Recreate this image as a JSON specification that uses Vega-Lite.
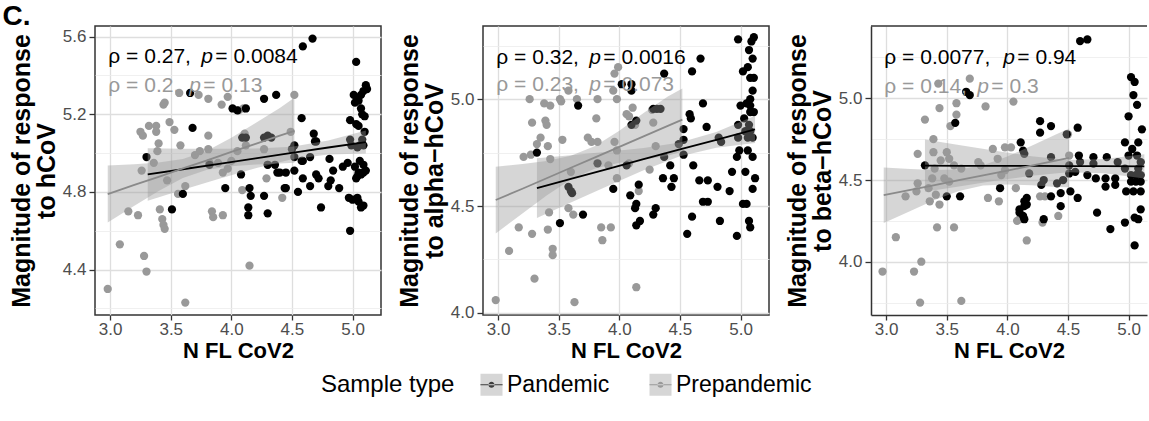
{
"$schema": "https://vega.github.io/schema/vega-lite/v6.json",
"background": "white",
"padding": {"left": 2, "right": 0, "top": 3, "bottom": 0},
"title": {"text": "C.", "anchor": "start", "frame": "bounds", "fontSize": 28, "fontWeight": "bold", "color": "#000000", "dx": -6, "offset": -6},
"datasets": {
"p1": [
{"type":"Prepandemic","nfl":2.98,"resp":4.30},{"type":"Prepandemic","nfl":3.08,"resp":4.53},{"type":"Prepandemic","nfl":3.15,"resp":4.70},{"type":"Prepandemic","nfl":3.23,"resp":4.68},{"type":"Prepandemic","nfl":3.28,"resp":4.47},{"type":"Prepandemic","nfl":3.30,"resp":4.39},{"type":"Prepandemic","nfl":3.26,"resp":4.91},{"type":"Prepandemic","nfl":3.25,"resp":5.11},{"type":"Prepandemic","nfl":3.27,"resp":5.09},{"type":"Prepandemic","nfl":3.32,"resp":5.14},{"type":"Prepandemic","nfl":3.38,"resp":5.14},{"type":"Prepandemic","nfl":3.38,"resp":5.11},{"type":"Prepandemic","nfl":3.36,"resp":4.95},{"type":"Prepandemic","nfl":3.40,"resp":5.05},{"type":"Prepandemic","nfl":3.39,"resp":5.01},{"type":"Prepandemic","nfl":3.44,"resp":5.25},{"type":"Prepandemic","nfl":3.45,"resp":5.26},{"type":"Prepandemic","nfl":3.41,"resp":4.71},{"type":"Prepandemic","nfl":3.43,"resp":4.66},{"type":"Prepandemic","nfl":3.44,"resp":4.63},{"type":"Prepandemic","nfl":3.45,"resp":4.61},{"type":"Prepandemic","nfl":3.47,"resp":4.86},{"type":"Prepandemic","nfl":3.49,"resp":5.16},{"type":"Prepandemic","nfl":3.53,"resp":5.12},{"type":"Prepandemic","nfl":3.58,"resp":5.04},{"type":"Prepandemic","nfl":3.57,"resp":5.31},{"type":"Prepandemic","nfl":3.73,"resp":5.30},{"type":"Prepandemic","nfl":3.56,"resp":4.79},{"type":"Prepandemic","nfl":3.62,"resp":4.83},{"type":"Prepandemic","nfl":3.62,"resp":4.23},{"type":"Prepandemic","nfl":3.74,"resp":5.01},{"type":"Prepandemic","nfl":3.81,"resp":5.02},{"type":"Prepandemic","nfl":3.81,"resp":5.09},{"type":"Prepandemic","nfl":3.81,"resp":5.28},{"type":"Prepandemic","nfl":3.92,"resp":5.25},{"type":"Prepandemic","nfl":3.97,"resp":5.29},{"type":"Prepandemic","nfl":3.84,"resp":4.70},{"type":"Prepandemic","nfl":3.85,"resp":4.67},{"type":"Prepandemic","nfl":3.93,"resp":4.68},{"type":"Prepandemic","nfl":3.82,"resp":4.95},{"type":"Prepandemic","nfl":3.93,"resp":4.90},{"type":"Prepandemic","nfl":3.97,"resp":4.92},{"type":"Prepandemic","nfl":4.00,"resp":4.96},{"type":"Prepandemic","nfl":4.05,"resp":5.01},{"type":"Prepandemic","nfl":4.06,"resp":5.22},{"type":"Prepandemic","nfl":4.10,"resp":5.23},{"type":"Prepandemic","nfl":4.11,"resp":5.10},{"type":"Prepandemic","nfl":4.12,"resp":5.04},{"type":"Prepandemic","nfl":4.09,"resp":4.81},{"type":"Prepandemic","nfl":4.15,"resp":4.42},{"type":"Prepandemic","nfl":4.27,"resp":5.02},{"type":"Prepandemic","nfl":4.29,"resp":4.87},{"type":"Prepandemic","nfl":4.30,"resp":4.94},{"type":"Prepandemic","nfl":4.42,"resp":4.77},{"type":"Prepandemic","nfl":4.49,"resp":5.11},{"type":"Prepandemic","nfl":4.52,"resp":5.30},{"type":"Prepandemic","nfl":3.70,"resp":4.99},{"type":"Prepandemic","nfl":3.89,"resp":4.95},
{"type":"Pandemic","nfl":3.30,"resp":4.98},{"type":"Pandemic","nfl":3.51,"resp":4.71},{"type":"Pandemic","nfl":3.66,"resp":5.31},{"type":"Pandemic","nfl":3.68,"resp":5.13},{"type":"Pandemic","nfl":3.60,"resp":4.79},{"type":"Pandemic","nfl":3.82,"resp":4.94},{"type":"Pandemic","nfl":3.95,"resp":4.82},{"type":"Pandemic","nfl":4.01,"resp":5.23},{"type":"Pandemic","nfl":4.05,"resp":5.22},{"type":"Pandemic","nfl":4.12,"resp":5.23},{"type":"Pandemic","nfl":4.09,"resp":5.08},{"type":"Pandemic","nfl":4.12,"resp":5.08},{"type":"Pandemic","nfl":4.08,"resp":4.89},{"type":"Pandemic","nfl":4.15,"resp":4.82},{"type":"Pandemic","nfl":4.16,"resp":4.78},{"type":"Pandemic","nfl":4.14,"resp":4.72},{"type":"Pandemic","nfl":4.14,"resp":4.68},{"type":"Pandemic","nfl":4.27,"resp":5.28},{"type":"Pandemic","nfl":4.27,"resp":5.08},{"type":"Pandemic","nfl":4.30,"resp":5.09},{"type":"Pandemic","nfl":4.33,"resp":5.08},{"type":"Pandemic","nfl":4.27,"resp":4.78},{"type":"Pandemic","nfl":4.30,"resp":4.69},{"type":"Pandemic","nfl":4.37,"resp":5.30},{"type":"Pandemic","nfl":4.30,"resp":4.94},{"type":"Pandemic","nfl":4.36,"resp":4.94},{"type":"Pandemic","nfl":4.40,"resp":4.90},{"type":"Pandemic","nfl":4.45,"resp":4.90},{"type":"Pandemic","nfl":4.45,"resp":4.82},{"type":"Pandemic","nfl":4.52,"resp":5.04},{"type":"Pandemic","nfl":4.50,"resp":5.02},{"type":"Pandemic","nfl":4.52,"resp":4.98},{"type":"Pandemic","nfl":4.52,"resp":4.91},{"type":"Pandemic","nfl":4.55,"resp":4.80},{"type":"Pandemic","nfl":4.58,"resp":5.18},{"type":"Pandemic","nfl":4.59,"resp":4.96},{"type":"Pandemic","nfl":4.59,"resp":4.87},{"type":"Pandemic","nfl":4.59,"resp":5.55},{"type":"Pandemic","nfl":4.67,"resp":5.59},{"type":"Pandemic","nfl":4.65,"resp":4.98},{"type":"Pandemic","nfl":4.68,"resp":5.10},{"type":"Pandemic","nfl":4.70,"resp":5.06},{"type":"Pandemic","nfl":4.70,"resp":4.89},{"type":"Pandemic","nfl":4.72,"resp":4.87},{"type":"Pandemic","nfl":4.74,"resp":4.72},{"type":"Pandemic","nfl":4.81,"resp":4.97},{"type":"Pandemic","nfl":4.82,"resp":4.86},{"type":"Pandemic","nfl":4.80,"resp":4.83},{"type":"Pandemic","nfl":4.84,"resp":4.91},{"type":"Pandemic","nfl":4.89,"resp":4.82},{"type":"Pandemic","nfl":4.92,"resp":4.93},{"type":"Pandemic","nfl":4.96,"resp":4.95},{"type":"Pandemic","nfl":4.98,"resp":4.60},{"type":"Pandemic","nfl":4.97,"resp":4.77},{"type":"Pandemic","nfl":4.98,"resp":5.07},{"type":"Pandemic","nfl":4.99,"resp":5.04},{"type":"Pandemic","nfl":4.98,"resp":5.17},{"type":"Pandemic","nfl":5.03,"resp":5.47},{"type":"Pandemic","nfl":5.01,"resp":5.30},{"type":"Pandemic","nfl":5.04,"resp":5.28},{"type":"Pandemic","nfl":5.07,"resp":5.30},{"type":"Pandemic","nfl":5.09,"resp":5.32},{"type":"Pandemic","nfl":5.11,"resp":5.35},{"type":"Pandemic","nfl":5.12,"resp":5.33},{"type":"Pandemic","nfl":5.02,"resp":5.26},{"type":"Pandemic","nfl":5.05,"resp":5.27},{"type":"Pandemic","nfl":5.07,"resp":5.23},{"type":"Pandemic","nfl":5.08,"resp":5.20},{"type":"Pandemic","nfl":5.10,"resp":5.19},{"type":"Pandemic","nfl":5.03,"resp":5.15},{"type":"Pandemic","nfl":5.05,"resp":5.14},{"type":"Pandemic","nfl":5.10,"resp":5.11},{"type":"Pandemic","nfl":5.08,"resp":5.07},{"type":"Pandemic","nfl":5.06,"resp":5.04},{"type":"Pandemic","nfl":5.09,"resp":5.04},{"type":"Pandemic","nfl":5.04,"resp":5.03},{"type":"Pandemic","nfl":5.06,"resp":4.96},{"type":"Pandemic","nfl":5.09,"resp":4.94},{"type":"Pandemic","nfl":5.02,"resp":4.93},{"type":"Pandemic","nfl":5.05,"resp":4.90},{"type":"Pandemic","nfl":5.04,"resp":4.88},{"type":"Pandemic","nfl":5.07,"resp":4.89},{"type":"Pandemic","nfl":5.09,"resp":4.90},{"type":"Pandemic","nfl":5.11,"resp":4.91},{"type":"Pandemic","nfl":5.03,"resp":4.87},{"type":"Pandemic","nfl":5.05,"resp":4.75},{"type":"Pandemic","nfl":5.07,"resp":4.72},{"type":"Pandemic","nfl":5.09,"resp":4.73},{"type":"Pandemic","nfl":5.00,"resp":4.76},{"type":"Pandemic","nfl":5.04,"resp":4.77},{"type":"Pandemic","nfl":4.38,"resp":4.90},{"type":"Pandemic","nfl":4.44,"resp":4.82},{"type":"Pandemic","nfl":4.69,"resp":5.06},{"type":"Pandemic","nfl":4.65,"resp":4.83},{"type":"Pandemic","nfl":4.58,"resp":4.96}
],
"p1fit": [
{"type":"Pandemic","nfl":3.31,"fit":4.890,"lo":4.755,"hi":5.025},{"type":"Pandemic","nfl":3.6,"fit":4.917,"lo":4.811,"hi":5.023},{"type":"Pandemic","nfl":3.9,"fit":4.945,"lo":4.868,"hi":5.023},{"type":"Pandemic","nfl":4.2,"fit":4.973,"lo":4.922,"hi":5.024},{"type":"Pandemic","nfl":4.5,"fit":5.001,"lo":4.969,"hi":5.033},{"type":"Pandemic","nfl":4.8,"fit":5.029,"lo":4.993,"hi":5.065},{"type":"Pandemic","nfl":5.11,"fit":5.057,"lo":4.998,"hi":5.116},
{"type":"Prepandemic","nfl":2.98,"fit":4.789,"lo":4.642,"hi":4.936},{"type":"Prepandemic","nfl":3.2,"fit":4.836,"lo":4.729,"hi":4.943},{"type":"Prepandemic","nfl":3.4,"fit":4.878,"lo":4.805,"hi":4.952},{"type":"Prepandemic","nfl":3.6,"fit":4.921,"lo":4.872,"hi":4.970},{"type":"Prepandemic","nfl":3.8,"fit":4.963,"lo":4.914,"hi":5.012},{"type":"Prepandemic","nfl":4.0,"fit":5.006,"lo":4.932,"hi":5.079},{"type":"Prepandemic","nfl":4.2,"fit":5.048,"lo":4.941,"hi":5.155},{"type":"Prepandemic","nfl":4.4,"fit":5.090,"lo":4.947,"hi":5.233},{"type":"Prepandemic","nfl":4.52,"fit":5.115,"lo":4.950,"hi":5.285}
],
"p2": [
{"type":"Prepandemic","nfl":2.98,"resp":4.06},{"type":"Prepandemic","nfl":3.09,"resp":4.29},{"type":"Prepandemic","nfl":3.17,"resp":4.40},{"type":"Prepandemic","nfl":3.28,"resp":4.37},{"type":"Prepandemic","nfl":3.30,"resp":4.16},{"type":"Prepandemic","nfl":3.26,"resp":5.00},{"type":"Prepandemic","nfl":3.38,"resp":4.98},{"type":"Prepandemic","nfl":3.43,"resp":4.97},{"type":"Prepandemic","nfl":3.28,"resp":4.89},{"type":"Prepandemic","nfl":3.39,"resp":4.90},{"type":"Prepandemic","nfl":3.40,"resp":4.88},{"type":"Prepandemic","nfl":3.32,"resp":4.79},{"type":"Prepandemic","nfl":3.35,"resp":4.82},{"type":"Prepandemic","nfl":3.27,"resp":4.74},{"type":"Prepandemic","nfl":3.41,"resp":4.78},{"type":"Prepandemic","nfl":3.43,"resp":4.72},{"type":"Prepandemic","nfl":3.51,"resp":5.00},{"type":"Prepandemic","nfl":3.52,"resp":4.99},{"type":"Prepandemic","nfl":3.58,"resp":5.04},{"type":"Prepandemic","nfl":3.53,"resp":4.81},{"type":"Prepandemic","nfl":3.82,"resp":5.00},{"type":"Prepandemic","nfl":3.81,"resp":4.91},{"type":"Prepandemic","nfl":3.74,"resp":4.82},{"type":"Prepandemic","nfl":3.77,"resp":4.80},{"type":"Prepandemic","nfl":3.82,"resp":4.80},{"type":"Prepandemic","nfl":3.95,"resp":5.04},{"type":"Prepandemic","nfl":3.96,"resp":5.12},{"type":"Prepandemic","nfl":3.99,"resp":5.15},{"type":"Prepandemic","nfl":3.96,"resp":4.80},{"type":"Prepandemic","nfl":3.98,"resp":4.76},{"type":"Prepandemic","nfl":3.60,"resp":4.66},{"type":"Prepandemic","nfl":3.58,"resp":4.49},{"type":"Prepandemic","nfl":3.62,"resp":4.46},{"type":"Prepandemic","nfl":3.42,"resp":4.47},{"type":"Prepandemic","nfl":3.41,"resp":4.39},{"type":"Prepandemic","nfl":3.45,"resp":4.30},{"type":"Prepandemic","nfl":3.45,"resp":4.27},{"type":"Prepandemic","nfl":3.85,"resp":4.40},{"type":"Prepandemic","nfl":3.93,"resp":4.40},{"type":"Prepandemic","nfl":3.86,"resp":4.34},{"type":"Prepandemic","nfl":3.63,"resp":4.05},{"type":"Prepandemic","nfl":3.91,"resp":4.69},{"type":"Prepandemic","nfl":3.98,"resp":4.63},{"type":"Prepandemic","nfl":3.21,"resp":4.73},{"type":"Prepandemic","nfl":3.65,"resp":5.00},{"type":"Prepandemic","nfl":3.98,"resp":5.00},{"type":"Prepandemic","nfl":4.06,"resp":4.93},{"type":"Prepandemic","nfl":4.11,"resp":4.96},{"type":"Prepandemic","nfl":4.13,"resp":4.88},{"type":"Prepandemic","nfl":4.27,"resp":4.95},{"type":"Prepandemic","nfl":4.28,"resp":4.89},{"type":"Prepandemic","nfl":4.08,"resp":4.92},{"type":"Prepandemic","nfl":4.30,"resp":4.78},{"type":"Prepandemic","nfl":4.25,"resp":4.67},{"type":"Prepandemic","nfl":4.08,"resp":4.70},{"type":"Prepandemic","nfl":4.43,"resp":4.59},{"type":"Prepandemic","nfl":4.16,"resp":4.57},{"type":"Prepandemic","nfl":4.14,"resp":4.12},
{"type":"Pandemic","nfl":3.32,"resp":4.75},{"type":"Pandemic","nfl":3.66,"resp":4.97},{"type":"Pandemic","nfl":4.02,"resp":5.07},{"type":"Pandemic","nfl":4.10,"resp":5.07},{"type":"Pandemic","nfl":4.10,"resp":5.04},{"type":"Pandemic","nfl":3.58,"resp":4.59},{"type":"Pandemic","nfl":3.60,"resp":4.57},{"type":"Pandemic","nfl":3.61,"resp":4.56},{"type":"Pandemic","nfl":3.70,"resp":4.46},{"type":"Pandemic","nfl":3.51,"resp":4.42},{"type":"Pandemic","nfl":3.95,"resp":4.58},{"type":"Pandemic","nfl":3.82,"resp":4.70},{"type":"Pandemic","nfl":4.98,"resp":5.28},{"type":"Pandemic","nfl":5.09,"resp":5.27},{"type":"Pandemic","nfl":5.11,"resp":5.29},{"type":"Pandemic","nfl":5.07,"resp":5.23},{"type":"Pandemic","nfl":5.10,"resp":5.19},{"type":"Pandemic","nfl":5.06,"resp":5.15},{"type":"Pandemic","nfl":5.02,"resp":5.13},{"type":"Pandemic","nfl":5.08,"resp":5.10},{"type":"Pandemic","nfl":5.11,"resp":5.10},{"type":"Pandemic","nfl":5.10,"resp":5.04},{"type":"Pandemic","nfl":5.08,"resp":5.00},{"type":"Pandemic","nfl":5.05,"resp":4.98},{"type":"Pandemic","nfl":5.00,"resp":4.97},{"type":"Pandemic","nfl":5.08,"resp":4.97},{"type":"Pandemic","nfl":5.11,"resp":4.94},{"type":"Pandemic","nfl":5.08,"resp":4.94},{"type":"Pandemic","nfl":5.03,"resp":4.91},{"type":"Pandemic","nfl":5.07,"resp":4.88},{"type":"Pandemic","nfl":4.98,"resp":4.88},{"type":"Pandemic","nfl":5.04,"resp":4.85},{"type":"Pandemic","nfl":5.08,"resp":4.85},{"type":"Pandemic","nfl":5.10,"resp":4.82},{"type":"Pandemic","nfl":4.98,"resp":4.82},{"type":"Pandemic","nfl":5.06,"resp":4.82},{"type":"Pandemic","nfl":4.99,"resp":4.76},{"type":"Pandemic","nfl":4.97,"resp":4.73},{"type":"Pandemic","nfl":5.06,"resp":4.76},{"type":"Pandemic","nfl":5.10,"resp":4.73},{"type":"Pandemic","nfl":5.04,"resp":4.66},{"type":"Pandemic","nfl":4.93,"resp":4.66},{"type":"Pandemic","nfl":5.12,"resp":4.63},{"type":"Pandemic","nfl":5.10,"resp":4.58},{"type":"Pandemic","nfl":5.02,"resp":4.51},{"type":"Pandemic","nfl":5.05,"resp":4.51},{"type":"Pandemic","nfl":5.07,"resp":4.43},{"type":"Pandemic","nfl":5.08,"resp":4.40},{"type":"Pandemic","nfl":4.97,"resp":4.36},{"type":"Pandemic","nfl":4.91,"resp":4.57},{"type":"Pandemic","nfl":4.82,"resp":4.82},{"type":"Pandemic","nfl":4.84,"resp":4.80},{"type":"Pandemic","nfl":4.83,"resp":4.43},{"type":"Pandemic","nfl":4.81,"resp":4.59},{"type":"Pandemic","nfl":4.73,"resp":4.62},{"type":"Pandemic","nfl":4.69,"resp":4.52},{"type":"Pandemic","nfl":4.73,"resp":4.52},{"type":"Pandemic","nfl":4.60,"resp":4.45},{"type":"Pandemic","nfl":4.56,"resp":4.37},{"type":"Pandemic","nfl":4.61,"resp":4.69},{"type":"Pandemic","nfl":4.72,"resp":4.87},{"type":"Pandemic","nfl":4.69,"resp":4.98},{"type":"Pandemic","nfl":4.67,"resp":5.19},{"type":"Pandemic","nfl":4.60,"resp":5.13},{"type":"Pandemic","nfl":4.58,"resp":4.93},{"type":"Pandemic","nfl":4.59,"resp":4.91},{"type":"Pandemic","nfl":4.53,"resp":4.86},{"type":"Pandemic","nfl":4.53,"resp":4.81},{"type":"Pandemic","nfl":4.49,"resp":4.79},{"type":"Pandemic","nfl":4.53,"resp":4.74},{"type":"Pandemic","nfl":4.43,"resp":4.59},{"type":"Pandemic","nfl":4.45,"resp":4.63},{"type":"Pandemic","nfl":4.36,"resp":4.63},{"type":"Pandemic","nfl":4.42,"resp":4.69},{"type":"Pandemic","nfl":4.37,"resp":4.73},{"type":"Pandemic","nfl":4.31,"resp":4.955},{"type":"Pandemic","nfl":4.34,"resp":4.955},{"type":"Pandemic","nfl":4.28,"resp":4.955},{"type":"Pandemic","nfl":4.28,"resp":4.46},{"type":"Pandemic","nfl":4.30,"resp":4.49},{"type":"Pandemic","nfl":4.14,"resp":4.41},{"type":"Pandemic","nfl":4.17,"resp":4.43},{"type":"Pandemic","nfl":4.14,"resp":4.51},{"type":"Pandemic","nfl":4.13,"resp":4.49},{"type":"Pandemic","nfl":4.09,"resp":4.55},{"type":"Pandemic","nfl":4.16,"resp":4.60},{"type":"Pandemic","nfl":4.14,"resp":4.90},{"type":"Pandemic","nfl":4.10,"resp":4.88},{"type":"Pandemic","nfl":4.37,"resp":5.12},{"type":"Pandemic","nfl":4.06,"resp":4.69},{"type":"Pandemic","nfl":4.66,"resp":4.62}
],
"p2fit": [
{"type":"Pandemic","nfl":3.32,"fit":4.584,"lo":4.444,"hi":4.724},{"type":"Pandemic","nfl":3.6,"fit":4.627,"lo":4.516,"hi":4.738},{"type":"Pandemic","nfl":3.9,"fit":4.673,"lo":4.592,"hi":4.754},{"type":"Pandemic","nfl":4.2,"fit":4.719,"lo":4.667,"hi":4.771},{"type":"Pandemic","nfl":4.5,"fit":4.765,"lo":4.733,"hi":4.797},{"type":"Pandemic","nfl":4.8,"fit":4.810,"lo":4.773,"hi":4.847},{"type":"Pandemic","nfl":5.12,"fit":4.859,"lo":4.795,"hi":4.923},
{"type":"Prepandemic","nfl":2.98,"fit":4.528,"lo":4.372,"hi":4.684},{"type":"Prepandemic","nfl":3.2,"fit":4.581,"lo":4.465,"hi":4.697},{"type":"Prepandemic","nfl":3.4,"fit":4.630,"lo":4.549,"hi":4.711},{"type":"Prepandemic","nfl":3.6,"fit":4.679,"lo":4.624,"hi":4.735},{"type":"Prepandemic","nfl":3.8,"fit":4.728,"lo":4.676,"hi":4.781},{"type":"Prepandemic","nfl":4.0,"fit":4.777,"lo":4.702,"hi":4.852},{"type":"Prepandemic","nfl":4.2,"fit":4.826,"lo":4.717,"hi":4.935},{"type":"Prepandemic","nfl":4.4,"fit":4.875,"lo":4.735,"hi":5.012},{"type":"Prepandemic","nfl":4.52,"fit":4.904,"lo":4.755,"hi":5.050}
],
"p3": [
{"type":"Prepandemic","nfl":2.97,"resp":3.94},{"type":"Prepandemic","nfl":3.08,"resp":4.15},{"type":"Prepandemic","nfl":3.23,"resp":3.94},{"type":"Prepandemic","nfl":3.29,"resp":4.00},{"type":"Prepandemic","nfl":3.28,"resp":3.75},{"type":"Prepandemic","nfl":3.62,"resp":3.76},{"type":"Prepandemic","nfl":3.42,"resp":4.21},{"type":"Prepandemic","nfl":3.56,"resp":4.21},{"type":"Prepandemic","nfl":3.16,"resp":4.40},{"type":"Prepandemic","nfl":3.25,"resp":4.43},{"type":"Prepandemic","nfl":3.26,"resp":4.48},{"type":"Prepandemic","nfl":3.36,"resp":4.37},{"type":"Prepandemic","nfl":3.41,"resp":4.41},{"type":"Prepandemic","nfl":3.44,"resp":4.35},{"type":"Prepandemic","nfl":3.38,"resp":4.51},{"type":"Prepandemic","nfl":3.48,"resp":4.51},{"type":"Prepandemic","nfl":3.26,"resp":4.66},{"type":"Prepandemic","nfl":3.39,"resp":4.67},{"type":"Prepandemic","nfl":3.39,"resp":4.75},{"type":"Prepandemic","nfl":3.50,"resp":4.67},{"type":"Prepandemic","nfl":3.52,"resp":4.63},{"type":"Prepandemic","nfl":3.32,"resp":4.87},{"type":"Prepandemic","nfl":3.44,"resp":4.94},{"type":"Prepandemic","nfl":3.53,"resp":4.83},{"type":"Prepandemic","nfl":3.58,"resp":4.90},{"type":"Prepandemic","nfl":3.58,"resp":4.97},{"type":"Prepandemic","nfl":3.43,"resp":5.09},{"type":"Prepandemic","nfl":3.69,"resp":5.12},{"type":"Prepandemic","nfl":3.82,"resp":4.95},{"type":"Prepandemic","nfl":4.05,"resp":4.98},{"type":"Prepandemic","nfl":3.88,"resp":4.69},{"type":"Prepandemic","nfl":3.98,"resp":4.70},{"type":"Prepandemic","nfl":3.76,"resp":4.61},{"type":"Prepandemic","nfl":3.84,"resp":4.39},{"type":"Prepandemic","nfl":3.93,"resp":4.37},{"type":"Prepandemic","nfl":3.98,"resp":4.56},{"type":"Prepandemic","nfl":3.52,"resp":4.49},{"type":"Prepandemic","nfl":3.62,"resp":4.57},{"type":"Prepandemic","nfl":3.45,"resp":4.62},{"type":"Prepandemic","nfl":3.56,"resp":4.59},{"type":"Prepandemic","nfl":3.92,"resp":4.63},{"type":"Prepandemic","nfl":3.95,"resp":4.53},{"type":"Prepandemic","nfl":4.07,"resp":4.45},{"type":"Prepandemic","nfl":4.08,"resp":4.25},{"type":"Prepandemic","nfl":4.10,"resp":4.26},{"type":"Prepandemic","nfl":4.16,"resp":4.13},{"type":"Prepandemic","nfl":4.27,"resp":4.40},{"type":"Prepandemic","nfl":4.29,"resp":4.24},{"type":"Prepandemic","nfl":4.42,"resp":4.28},{"type":"Prepandemic","nfl":4.51,"resp":4.65},{"type":"Prepandemic","nfl":4.50,"resp":4.78},{"type":"Prepandemic","nfl":4.03,"resp":4.70},{"type":"Prepandemic","nfl":4.31,"resp":4.40},{"type":"Prepandemic","nfl":3.35,"resp":4.45},{"type":"Prepandemic","nfl":3.40,"resp":4.57},{"type":"Prepandemic","nfl":3.78,"resp":4.59},
{"type":"Pandemic","nfl":3.32,"resp":4.59},{"type":"Pandemic","nfl":3.57,"resp":4.85},{"type":"Pandemic","nfl":3.66,"resp":5.04},{"type":"Pandemic","nfl":3.69,"resp":5.02},{"type":"Pandemic","nfl":3.50,"resp":4.40},{"type":"Pandemic","nfl":3.61,"resp":4.40},{"type":"Pandemic","nfl":3.94,"resp":4.45},{"type":"Pandemic","nfl":4.11,"resp":4.73},{"type":"Pandemic","nfl":4.13,"resp":4.68},{"type":"Pandemic","nfl":4.14,"resp":4.66},{"type":"Pandemic","nfl":4.10,"resp":4.30},{"type":"Pandemic","nfl":4.13,"resp":4.28},{"type":"Pandemic","nfl":4.14,"resp":4.37},{"type":"Pandemic","nfl":4.16,"resp":4.35},{"type":"Pandemic","nfl":4.14,"resp":4.26},{"type":"Pandemic","nfl":4.18,"resp":4.54},{"type":"Pandemic","nfl":4.16,"resp":4.39},{"type":"Pandemic","nfl":4.14,"resp":4.34},{"type":"Pandemic","nfl":4.10,"resp":4.32},{"type":"Pandemic","nfl":4.27,"resp":4.86},{"type":"Pandemic","nfl":4.27,"resp":4.79},{"type":"Pandemic","nfl":4.36,"resp":4.83},{"type":"Pandemic","nfl":4.36,"resp":4.40},{"type":"Pandemic","nfl":4.36,"resp":4.64},{"type":"Pandemic","nfl":4.30,"resp":4.50},{"type":"Pandemic","nfl":4.28,"resp":4.47},{"type":"Pandemic","nfl":4.30,"resp":4.26},{"type":"Pandemic","nfl":4.41,"resp":4.48},{"type":"Pandemic","nfl":4.44,"resp":4.42},{"type":"Pandemic","nfl":4.44,"resp":4.34},{"type":"Pandemic","nfl":4.52,"resp":4.43},{"type":"Pandemic","nfl":4.51,"resp":4.54},{"type":"Pandemic","nfl":4.51,"resp":4.59},{"type":"Pandemic","nfl":4.58,"resp":4.82},{"type":"Pandemic","nfl":4.49,"resp":4.78},{"type":"Pandemic","nfl":4.58,"resp":4.39},{"type":"Pandemic","nfl":4.59,"resp":4.65},{"type":"Pandemic","nfl":4.60,"resp":4.61},{"type":"Pandemic","nfl":4.71,"resp":4.64},{"type":"Pandemic","nfl":4.66,"resp":4.53},{"type":"Pandemic","nfl":4.73,"resp":4.51},{"type":"Pandemic","nfl":4.71,"resp":4.60},{"type":"Pandemic","nfl":4.81,"resp":4.51},{"type":"Pandemic","nfl":4.82,"resp":4.64},{"type":"Pandemic","nfl":4.91,"resp":4.61},{"type":"Pandemic","nfl":4.85,"resp":4.20},{"type":"Pandemic","nfl":4.74,"resp":4.30},{"type":"Pandemic","nfl":4.60,"resp":5.35},{"type":"Pandemic","nfl":4.66,"resp":5.36},{"type":"Pandemic","nfl":5.02,"resp":5.13},{"type":"Pandemic","nfl":5.05,"resp":5.10},{"type":"Pandemic","nfl":5.04,"resp":5.02},{"type":"Pandemic","nfl":5.07,"resp":4.96},{"type":"Pandemic","nfl":5.00,"resp":4.89},{"type":"Pandemic","nfl":5.11,"resp":4.81},{"type":"Pandemic","nfl":4.97,"resp":4.73},{"type":"Pandemic","nfl":5.08,"resp":4.73},{"type":"Pandemic","nfl":5.03,"resp":4.69},{"type":"Pandemic","nfl":5.07,"resp":4.65},{"type":"Pandemic","nfl":5.10,"resp":4.61},{"type":"Pandemic","nfl":5.00,"resp":4.65},{"type":"Pandemic","nfl":5.08,"resp":4.57},{"type":"Pandemic","nfl":4.97,"resp":4.57},{"type":"Pandemic","nfl":5.02,"resp":4.53},{"type":"Pandemic","nfl":5.06,"resp":4.53},{"type":"Pandemic","nfl":5.10,"resp":4.53},{"type":"Pandemic","nfl":5.02,"resp":4.49},{"type":"Pandemic","nfl":5.06,"resp":4.49},{"type":"Pandemic","nfl":5.10,"resp":4.49},{"type":"Pandemic","nfl":4.98,"resp":4.43},{"type":"Pandemic","nfl":5.04,"resp":4.43},{"type":"Pandemic","nfl":5.10,"resp":4.43},{"type":"Pandemic","nfl":5.05,"resp":4.27},{"type":"Pandemic","nfl":5.08,"resp":4.26},{"type":"Pandemic","nfl":4.97,"resp":4.24},{"type":"Pandemic","nfl":5.10,"resp":4.32},{"type":"Pandemic","nfl":5.05,"resp":4.10},{"type":"Pandemic","nfl":4.89,"resp":4.51},{"type":"Pandemic","nfl":4.81,"resp":4.46},{"type":"Pandemic","nfl":4.89,"resp":4.47},{"type":"Pandemic","nfl":4.46,"resp":4.50},{"type":"Pandemic","nfl":4.56,"resp":4.55}
],
"p3fit": [
{"type":"Pandemic","nfl":3.32,"fit":4.588,"lo":4.428,"hi":4.748},{"type":"Pandemic","nfl":3.6,"fit":4.587,"lo":4.460,"hi":4.714},{"type":"Pandemic","nfl":3.9,"fit":4.587,"lo":4.495,"hi":4.679},{"type":"Pandemic","nfl":4.2,"fit":4.586,"lo":4.526,"hi":4.646},{"type":"Pandemic","nfl":4.5,"fit":4.585,"lo":4.548,"hi":4.622},{"type":"Pandemic","nfl":4.8,"fit":4.585,"lo":4.542,"hi":4.628},{"type":"Pandemic","nfl":5.13,"fit":4.584,"lo":4.510,"hi":4.657},
{"type":"Prepandemic","nfl":2.98,"fit":4.407,"lo":4.237,"hi":4.577},{"type":"Prepandemic","nfl":3.2,"fit":4.439,"lo":4.311,"hi":4.567},{"type":"Prepandemic","nfl":3.4,"fit":4.469,"lo":4.377,"hi":4.561},{"type":"Prepandemic","nfl":3.6,"fit":4.499,"lo":4.433,"hi":4.564},{"type":"Prepandemic","nfl":3.8,"fit":4.529,"lo":4.466,"hi":4.591},{"type":"Prepandemic","nfl":4.0,"fit":4.558,"lo":4.473,"hi":4.644},{"type":"Prepandemic","nfl":4.2,"fit":4.588,"lo":4.468,"hi":4.709},{"type":"Prepandemic","nfl":4.4,"fit":4.618,"lo":4.458,"hi":4.778},{"type":"Prepandemic","nfl":4.51,"fit":4.636,"lo":4.455,"hi":4.815}
]
},
"spacing": 102,
"bounds": "flush",
"hconcat": [
{
"width": 286, "height": 289,
"layer": [
{"data": {"name": "p1"}, "mark": {"type": "circle", "size": 68, "opacity": 1},
 "encoding": {
  "x": {"field": "nfl", "type": "quantitative", "scale": {"domain": [2.875, 5.235], "nice": false, "zero": false},
   "axis": {"title": "N FL CoV2", "values": [3, 3.25, 3.5, 3.75, 4, 4.25, 4.5, 4.75, 5], "labelFlush": false,
    "labelExpr": "round(datum.value*100) % 50 == 0 ? format(datum.value, '.1f') : ''",
    "tickOpacity": {"condition": {"test": "round(datum.value*100) % 50 != 0", "value": 0}, "value": 1},
    "gridWidth": {"condition": {"test": "round(datum.value*100) % 50 != 0", "value": 0.8}, "value": 1.3},
    "gridColor": {"condition": {"test": "round(datum.value*100) % 50 != 0", "value": "#ececec"}, "value": "#dedede"}}},
  "y": {"field": "resp", "type": "quantitative", "scale": {"domain": [4.166, 5.655], "nice": false, "zero": false},
   "axis": {"title": ["Magnitude of response", "to hCoV"], "values": [4.2, 4.4, 4.6, 4.8, 5.0, 5.2, 5.4, 5.6],
    "labelExpr": "round(datum.value*10) % 4 == 0 ? format(datum.value, '.1f') : ''",
    "tickOpacity": {"condition": {"test": "round(datum.value*10) % 4 != 0", "value": 0}, "value": 1},
    "gridWidth": {"condition": {"test": "round(datum.value*10) % 4 != 0", "value": 0.8}, "value": 1.3},
    "gridColor": {"condition": {"test": "round(datum.value*10) % 4 != 0", "value": "#ececec"}, "value": "#dedede"}}},
  "fill": {"field": "type", "type": "nominal", "scale": {"range": ["#000000", "#999999"]},
   "legend": {"title": "Sample type", "orient": "none", "legendX": 226, "legendY": 347, "direction": "horizontal", "titleOrient": "left", "titleFontSize": 24, "titleFontWeight": "normal", "titleColor": "#000000", "titlePadding": 25, "labelFontSize": 23, "labelColor": "#000000", "labelOffset": 4, "columnPadding": 39, "symbolType": "M-1,-0.05L1,-0.05L1,0.05L-1,0.05Z M-0.28,0A0.28,0.28 0 1,0 0.28,0A0.28,0.28 0 1,0 -0.28,0Z", "symbolSize": 484, "symbolStrokeWidth": 0, "symbolOpacity": 1}}
 }},
{"data": {"name": "p1fit"}, "mark": {"type": "area", "opacity": 0.4},
 "encoding": {
  "x": {"field": "nfl", "type": "quantitative"},
  "y": {"field": "lo", "type": "quantitative"},
  "y2": {"field": "hi"},
  "color": {"field": "type", "type": "nominal", "scale": {"domain": ["Pandemic", "Prepandemic"], "range": ["#999999", "#999999"]},
   "legend": {"title": "Sample type", "orient": "none", "legendX": 226, "legendY": 347, "direction": "horizontal", "titleOrient": "left", "titleFontSize": 24, "titleFontWeight": "normal", "titlePadding": 25, "titleOpacity": 0, "labelFontSize": 23, "labelOpacity": 0, "labelOffset": 4, "columnPadding": 39, "symbolType": "square", "symbolSize": 484, "symbolStrokeWidth": 0, "symbolOpacity": 0.4}}
 }},
{"data": {"name": "p1fit"}, "mark": {"type": "line", "strokeWidth": 1.8},
 "encoding": {
  "x": {"field": "nfl", "type": "quantitative"},
  "y": {"field": "fit", "type": "quantitative"},
  "stroke": {"field": "type", "type": "nominal", "scale": {"range": ["#000000", "#8a8a8a"]}, "legend": null}
 }},
{"data": {"values": [{}]}, "mark": {"type": "text", "text": "ρ = 0.27,", "align": "left", "baseline": "middle", "fontSize": 21, "color": "#000000"}, "encoding": {"x": {"datum": 2.985}, "y": {"datum": 5.495}}},
{"data": {"values": [{}]}, "mark": {"type": "text", "text": "p", "fontStyle": "italic", "align": "left", "baseline": "middle", "fontSize": 21, "color": "#000000"}, "encoding": {"x": {"datum": 3.752}, "y": {"datum": 5.495}}},
{"data": {"values": [{}]}, "mark": {"type": "text", "text": "= 0.0084", "align": "left", "baseline": "middle", "fontSize": 21, "color": "#000000"}, "encoding": {"x": {"datum": 3.868}, "y": {"datum": 5.495}}},
{"data": {"values": [{}]}, "mark": {"type": "text", "text": "ρ = 0.2,", "align": "left", "baseline": "middle", "fontSize": 21, "color": "#999999"}, "encoding": {"x": {"datum": 2.985}, "y": {"datum": 5.346}}},
{"data": {"values": [{}]}, "mark": {"type": "text", "text": "p", "fontStyle": "italic", "align": "left", "baseline": "middle", "fontSize": 21, "color": "#999999"}, "encoding": {"x": {"datum": 3.653}, "y": {"datum": 5.346}}},
{"data": {"values": [{}]}, "mark": {"type": "text", "text": "= 0.13", "align": "left", "baseline": "middle", "fontSize": 21, "color": "#999999"}, "encoding": {"x": {"datum": 3.769}, "y": {"datum": 5.346}}}
]
},
{
"width": 286, "height": 289,
"layer": [
{"data": {"name": "p2"}, "mark": {"type": "circle", "size": 68, "opacity": 1},
 "encoding": {
  "x": {"field": "nfl", "type": "quantitative", "scale": {"domain": [2.875, 5.235], "nice": false, "zero": false},
   "axis": {"title": "N FL CoV2", "values": [3, 3.25, 3.5, 3.75, 4, 4.25, 4.5, 4.75, 5], "labelFlush": false,
    "labelExpr": "round(datum.value*100) % 50 == 0 ? format(datum.value, '.1f') : ''",
    "tickOpacity": {"condition": {"test": "round(datum.value*100) % 50 != 0", "value": 0}, "value": 1},
    "gridWidth": {"condition": {"test": "round(datum.value*100) % 50 != 0", "value": 0.8}, "value": 1.3},
    "gridColor": {"condition": {"test": "round(datum.value*100) % 50 != 0", "value": "#ececec"}, "value": "#dedede"}}},
  "y": {"field": "resp", "type": "quantitative", "scale": {"domain": [3.99, 5.3425], "nice": false, "zero": false},
   "axis": {"title": ["Magnitude of response", "to alpha−hCoV"], "values": [4, 4.25, 4.5, 4.75, 5, 5.25],
    "labelExpr": "round(datum.value*100) % 50 == 0 ? format(datum.value, '.1f') : ''",
    "tickOpacity": {"condition": {"test": "round(datum.value*100) % 50 != 0", "value": 0}, "value": 1},
    "gridWidth": {"condition": {"test": "round(datum.value*100) % 50 != 0", "value": 0.8}, "value": 1.3},
    "gridColor": {"condition": {"test": "round(datum.value*100) % 50 != 0", "value": "#ececec"}, "value": "#dedede"}}},
  "fill": {"field": "type", "type": "nominal", "scale": {"range": ["#000000", "#999999"]}}
 }},
{"data": {"name": "p2fit"}, "mark": {"type": "area", "opacity": 0.4},
 "encoding": {
  "x": {"field": "nfl", "type": "quantitative"},
  "y": {"field": "lo", "type": "quantitative"},
  "y2": {"field": "hi"},
  "color": {"field": "type", "type": "nominal", "scale": {"domain": ["Pandemic", "Prepandemic"], "range": ["#999999", "#999999"]}}
 }},
{"data": {"name": "p2fit"}, "mark": {"type": "line", "strokeWidth": 1.8},
 "encoding": {
  "x": {"field": "nfl", "type": "quantitative"},
  "y": {"field": "fit", "type": "quantitative"},
  "stroke": {"field": "type", "type": "nominal", "scale": {"range": ["#000000", "#8a8a8a"]}, "legend": null}
 }},
{"data": {"values": [{}]}, "mark": {"type": "text", "text": "ρ = 0.32,", "align": "left", "baseline": "middle", "fontSize": 21, "color": "#000000"}, "encoding": {"x": {"datum": 2.985}, "y": {"datum": 5.195}}},
{"data": {"values": [{}]}, "mark": {"type": "text", "text": "p", "fontStyle": "italic", "align": "left", "baseline": "middle", "fontSize": 21, "color": "#000000"}, "encoding": {"x": {"datum": 3.752}, "y": {"datum": 5.195}}},
{"data": {"values": [{}]}, "mark": {"type": "text", "text": "= 0.0016", "align": "left", "baseline": "middle", "fontSize": 21, "color": "#000000"}, "encoding": {"x": {"datum": 3.868}, "y": {"datum": 5.195}}},
{"data": {"values": [{}]}, "mark": {"type": "text", "text": "ρ = 0.23,", "align": "left", "baseline": "middle", "fontSize": 21, "color": "#999999"}, "encoding": {"x": {"datum": 2.985}, "y": {"datum": 5.067}}},
{"data": {"values": [{}]}, "mark": {"type": "text", "text": "p", "fontStyle": "italic", "align": "left", "baseline": "middle", "fontSize": 21, "color": "#999999"}, "encoding": {"x": {"datum": 3.752}, "y": {"datum": 5.067}}},
{"data": {"values": [{}]}, "mark": {"type": "text", "text": "= 0.073", "align": "left", "baseline": "middle", "fontSize": 21, "color": "#999999"}, "encoding": {"x": {"datum": 3.868}, "y": {"datum": 5.067}}}
]
},
{
"width": 276, "height": 289,
"view": {"stroke": null},
"layer": [
{"data": {"name": "p3"}, "mark": {"type": "circle", "size": 68, "opacity": 1, "clip": true},
 "encoding": {
  "x": {"field": "nfl", "type": "quantitative", "scale": {"domain": [2.875, 5.152], "nice": false, "zero": false},
   "axis": {"title": "N FL CoV2", "values": [3, 3.25, 3.5, 3.75, 4, 4.25, 4.5, 4.75, 5], "labelFlush": false, "domain": true, "domainColor": "#333333", "domainWidth": 1.5,
    "labelExpr": "round(datum.value*100) % 50 == 0 ? format(datum.value, '.1f') : ''",
    "tickOpacity": {"condition": {"test": "round(datum.value*100) % 50 != 0", "value": 0}, "value": 1},
    "gridWidth": {"condition": {"test": "round(datum.value*100) % 50 != 0", "value": 0.8}, "value": 1.3},
    "gridColor": {"condition": {"test": "round(datum.value*100) % 50 != 0", "value": "#ececec"}, "value": "#dedede"}}},
  "y": {"field": "resp", "type": "quantitative", "scale": {"domain": [3.674, 5.4425], "nice": false, "zero": false},
   "axis": {"title": ["Magnitude of response", "to beta−hCoV"], "values": [3.75, 4, 4.25, 4.5, 4.75, 5, 5.25], "domain": true, "domainColor": "#333333", "domainWidth": 1.5,
    "labelExpr": "round(datum.value*100) % 50 == 0 ? format(datum.value, '.1f') : ''",
    "tickOpacity": {"condition": {"test": "round(datum.value*100) % 50 != 0", "value": 0}, "value": 1},
    "gridWidth": {"condition": {"test": "round(datum.value*100) % 50 != 0", "value": 0.8}, "value": 1.3},
    "gridColor": {"condition": {"test": "round(datum.value*100) % 50 != 0", "value": "#ececec"}, "value": "#dedede"}}},
  "fill": {"field": "type", "type": "nominal", "scale": {"range": ["#000000", "#999999"]}}
 }},
{"data": {"name": "p3fit"}, "mark": {"type": "area", "opacity": 0.4, "clip": true},
 "encoding": {
  "x": {"field": "nfl", "type": "quantitative"},
  "y": {"field": "lo", "type": "quantitative"},
  "y2": {"field": "hi"},
  "color": {"field": "type", "type": "nominal", "scale": {"domain": ["Pandemic", "Prepandemic"], "range": ["#999999", "#999999"]}}
 }},
{"data": {"name": "p3fit"}, "mark": {"type": "line", "strokeWidth": 1.8, "clip": true},
 "encoding": {
  "x": {"field": "nfl", "type": "quantitative"},
  "y": {"field": "fit", "type": "quantitative"},
  "stroke": {"field": "type", "type": "nominal", "scale": {"range": ["#000000", "#8a8a8a"]}, "legend": null}
 }},
{"data": {"values": [{}]}, "mark": {"type": "rule", "color": "#333333", "strokeWidth": 1.5}, "encoding": {"y": {"datum": 5.4425}}},
{"data": {"values": [{}]}, "mark": {"type": "text", "text": "ρ = 0.0077,", "align": "left", "baseline": "middle", "fontSize": 21, "color": "#000000"}, "encoding": {"x": {"datum": 2.985}, "y": {"datum": 5.247}}},
{"data": {"values": [{}]}, "mark": {"type": "text", "text": "p", "fontStyle": "italic", "align": "left", "baseline": "middle", "fontSize": 21, "color": "#000000"}, "encoding": {"x": {"datum": 3.967}, "y": {"datum": 5.247}}},
{"data": {"values": [{}]}, "mark": {"type": "text", "text": "= 0.94", "align": "left", "baseline": "middle", "fontSize": 21, "color": "#000000"}, "encoding": {"x": {"datum": 4.082}, "y": {"datum": 5.247}}},
{"data": {"values": [{}]}, "mark": {"type": "text", "text": "ρ = 0.14,", "align": "left", "baseline": "middle", "fontSize": 21, "color": "#999999"}, "encoding": {"x": {"datum": 2.985}, "y": {"datum": 5.069}}},
{"data": {"values": [{}]}, "mark": {"type": "text", "text": "p", "fontStyle": "italic", "align": "left", "baseline": "middle", "fontSize": 21, "color": "#999999"}, "encoding": {"x": {"datum": 3.752}, "y": {"datum": 5.069}}},
{"data": {"values": [{}]}, "mark": {"type": "text", "text": "= 0.3", "align": "left", "baseline": "middle", "fontSize": 21, "color": "#999999"}, "encoding": {"x": {"datum": 3.868}, "y": {"datum": 5.069}}}
]
}
],
"config": {
 "font": "Liberation Sans",
 "view": {"stroke": "#333333", "strokeWidth": 1.5},
 "axis": {"labelFont": "Liberation Sans", "labelFontSize": 17, "labelColor": "#4d4d4d", "tickColor": "#333333", "tickSize": 6, "tickWidth": 1.3, "labelPadding": 3, "domain": false, "titleFont": "Liberation Sans", "titleFontWeight": "bold", "titleColor": "#000000", "grid": true},
 "axisY": {"titleFontSize": 25, "titleLineHeight": 25, "titlePadding": 3},
 "axisX": {"titleFontSize": 22, "titlePadding": 3, "tickSize": 5, "labelPadding": 1},
 "legend": {"labelFont": "Liberation Sans", "titleFont": "Liberation Sans"},
 "title": {"font": "Liberation Sans"},
 "text": {"font": "Liberation Sans"}
}
}
